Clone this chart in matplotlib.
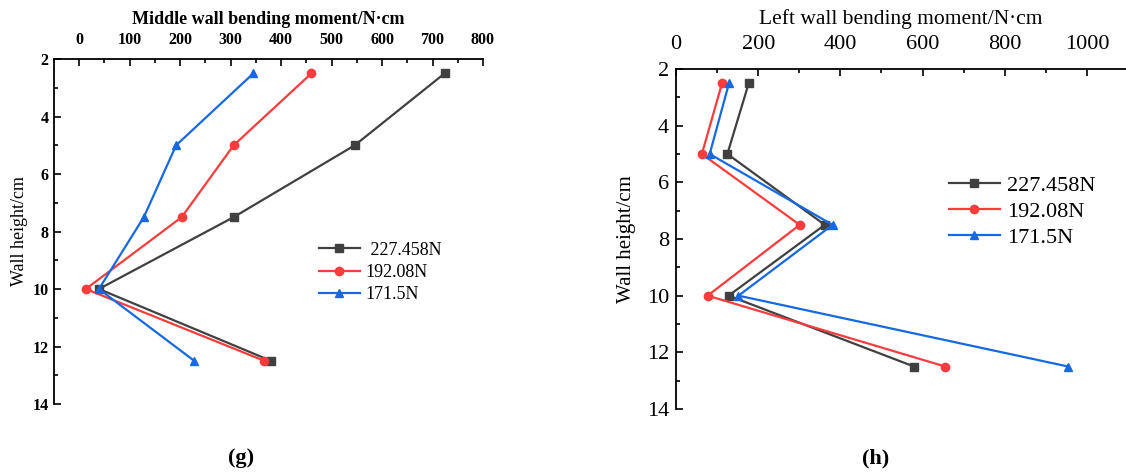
import matplotlib.pyplot as plt
from matplotlib.ticker import MultipleLocator

plt.rcParams['font.family'] = ['Liberation Serif', 'DejaVu Serif']

heights = [2.5, 5, 7.5, 10, 12.5]
labels = [' 227.458N', '192.08N', '171.5N']

# middle wall (g)
mid_227 = [724, 546, 306, 39, 380]
mid_192 = [460, 306, 203, 13, 367]
mid_171 = [345, 192, 128, 39, 228]

# left wall (h)
left_227 = [177, 125, 362, 128, 579]
left_192 = [112, 63, 301, 77, 655]
left_171 = [129, 82, 381, 152, 954]

colors = ['#404040', '#fa3c3c', '#1669e0']
markers = ['s', 'o', '^']

W, H = 1126, 475
fig = plt.figure(figsize=(W / 100, H / 100), dpi=100)


def setup(ax, xlim, major, minor, tick_fs, bold):
    ax.set_xlim(*xlim)
    ax.set_ylim(14, 2)
    ax.xaxis.tick_top()
    ax.xaxis.set_label_position('top')
    ax.spines['right'].set_visible(False)
    ax.spines['bottom'].set_visible(False)
    for s in ('left', 'top'):
        ax.spines[s].set_linewidth(1.3)
    ax.xaxis.set_major_locator(MultipleLocator(major))
    ax.xaxis.set_minor_locator(MultipleLocator(minor))
    ax.yaxis.set_major_locator(MultipleLocator(2))
    ax.yaxis.set_minor_locator(MultipleLocator(1))
    ax.tick_params(which='both', direction='in', width=1.2,
                   top=True, bottom=False, left=True, right=False)
    ax.tick_params(which='major', length=5)
    ax.tick_params(which='minor', length=3)
    for lab in ax.get_xticklabels() + ax.get_yticklabels():
        lab.set_fontsize(tick_fs)
        if bold:
            lab.set_fontweight('bold')


# ---- (g) middle wall
ax1 = fig.add_axes([54 / W, 1 - 404 / H, (483 - 54) / W, (404 - 59) / H])
for vals, c, m, lab in zip([mid_227, mid_192, mid_171], colors, markers, labels):
    ax1.plot(vals, heights, color=c, marker=m, markersize=6, lw=1.6, label=lab)
setup(ax1, (-50, 800), 100, 50, 11.5, True)
ax1.tick_params(axis='x', which='major', pad=8)
ax1.tick_params(axis='y', which='major', pad=4)
ax1.set_xlabel('Middle wall bending moment/N·cm', fontsize=13, fontweight='bold', labelpad=6)
ax1.set_ylabel('Wall height/cm', fontsize=13, labelpad=3)
ax1.legend(loc='upper left', bbox_to_anchor=(0.579, 0.518), frameon=False, fontsize=13,
           handlelength=2.3, handletextpad=0.3, labelspacing=0.3)

# ---- (h) left wall
ax2 = fig.add_axes([676 / W, 1 - 409 / H, (W - 676) / W, (409 - 69) / H])
for vals, c, m, lab in zip([left_227, left_192, left_171], colors, markers, labels):
    ax2.plot(vals, heights, color=c, marker=m, markersize=6, lw=1.6, label=lab.strip())
setup(ax2, (0, 1095), 200, 100, 16, False)
ax2.tick_params(axis='x', which='major', pad=11)
ax2.tick_params(axis='y', which='major', pad=5)
ax2.set_xlabel('Left wall bending moment/N·cm', fontsize=15.5, labelpad=8)
ax2.set_ylabel('Wall height/cm', fontsize=15, labelpad=8)
ax2.legend(loc='upper left', bbox_to_anchor=(0.562, 0.747), frameon=False, fontsize=16,
           handlelength=2.3, handletextpad=0.3, labelspacing=0.25)

fig.text(241 / W, 1 - 458 / H, '(g)', fontsize=16, fontweight='bold', ha='center', va='center')
fig.text(876 / W, 1 - 458 / H, '(h)', fontsize=16, fontweight='bold', ha='center', va='center')

fig.savefig('out.png', dpi=100)
